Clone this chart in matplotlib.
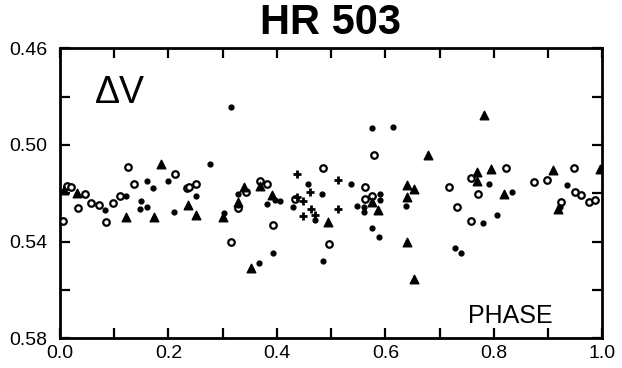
import numpy as np
import matplotlib
matplotlib.use("Agg")
import matplotlib.pyplot as plt

plt.rcParams['font.family'] = ['Liberation Sans', 'DejaVu Sans']

# open circles
circ_phase = [0.006, 0.012, 0.020, 0.033, 0.046, 0.058, 0.071, 0.085, 0.098, 0.111,
              0.125, 0.137, 0.212, 0.234, 0.238, 0.251, 0.315, 0.329, 0.342, 0.369,
              0.382, 0.393, 0.434, 0.485, 0.496, 0.563, 0.563, 0.576, 0.578, 0.718,
              0.731, 0.757, 0.758, 0.771, 0.822, 0.873, 0.897, 0.947, 0.950, 0.960,
              0.923, 0.975, 0.986]
circ_dv = [0.5315, 0.5169, 0.5173, 0.5262, 0.5203, 0.5240, 0.5250, 0.5319, 0.5242, 0.5211,
           0.5090, 0.5162, 0.5122, 0.5178, 0.5173, 0.5163, 0.5403, 0.5262, 0.5194, 0.5149,
           0.5163, 0.5331, 0.5225, 0.5094, 0.5411, 0.5173, 0.5225, 0.5213, 0.5042, 0.5173,
           0.5256, 0.5316, 0.5136, 0.5204, 0.5094, 0.5155, 0.5145, 0.5094, 0.5196, 0.5207,
           0.5235, 0.5235, 0.5228]

# filled dots
dot_phase = [0.083, 0.122, 0.149, 0.148, 0.161, 0.161, 0.172, 0.200, 0.211, 0.250,
             0.276, 0.303, 0.316, 0.328, 0.328, 0.381, 0.396, 0.405, 0.392, 0.367,
             0.429, 0.458, 0.483, 0.471, 0.484, 0.536, 0.547, 0.561, 0.561, 0.576,
             0.613, 0.590, 0.590, 0.575, 0.588, 0.638, 0.728, 0.740, 0.779, 0.791,
             0.806, 0.834, 0.935, 0.922]
dot_dv = [0.5269, 0.5210, 0.5232, 0.5266, 0.5149, 0.5258, 0.5177, 0.5149, 0.5279, 0.5211,
          0.5080, 0.5280, 0.4842, 0.5203, 0.5249, 0.5244, 0.5228, 0.5231, 0.5449, 0.5490,
          0.5258, 0.5162, 0.5202, 0.5311, 0.5482, 0.5162, 0.5251, 0.5257, 0.5276, 0.4928,
          0.4926, 0.5203, 0.5226, 0.5342, 0.5380, 0.5252, 0.5428, 0.5449, 0.5321, 0.5163,
          0.5290, 0.5196, 0.5167, 0.5256]

# crosses
plus_phase = [0.437, 0.461, 0.436, 0.448, 0.462, 0.448, 0.471, 0.512, 0.512]
plus_dv = [0.5122, 0.5193, 0.5214, 0.5231, 0.5265, 0.5292, 0.5290, 0.5145, 0.5263]

# filled triangles
tri_phase = [0.007, 0.032, 0.122, 0.173, 0.186, 0.236, 0.250, 0.301, 0.329, 0.339,
             0.368, 0.391, 0.353, 0.494, 0.576, 0.587, 0.639, 0.653, 0.639, 0.639,
             0.653, 0.679, 0.782, 0.768, 0.768, 0.794, 0.818, 0.909, 0.995, 0.919]
tri_dv = [0.5186, 0.5197, 0.5300, 0.5300, 0.5079, 0.5249, 0.5290, 0.5300, 0.5237, 0.5173,
          0.5169, 0.5207, 0.5509, 0.5319, 0.5237, 0.5269, 0.5164, 0.5184, 0.5215, 0.5402,
          0.5555, 0.5040, 0.4877, 0.5111, 0.5149, 0.5101, 0.5202, 0.5104, 0.5100, 0.5266]

fig = plt.figure(figsize=(6.22, 3.68), dpi=100)
ax = fig.add_axes([0.0965, 0.0807, 0.872, 0.788])

ax.scatter(circ_phase, circ_dv, s=22, facecolors='white', edgecolors='black', linewidths=1.6, zorder=3)
ax.scatter(dot_phase, dot_dv, s=12, color='black', zorder=3)
ax.scatter(plus_phase, plus_dv, s=28, marker='+', color='black', linewidths=2.0, zorder=3)
ax.scatter(tri_phase, tri_dv, s=38, marker='^', color='black', zorder=3)

ax.set_xlim(0, 1.0)
ax.set_ylim(0.58, 0.46)
ax.set_xticks(np.arange(0, 1.01, 0.2))
ax.set_xticks(np.arange(0, 1.01, 0.1), minor=True)
ax.set_yticks([0.46, 0.50, 0.54, 0.58])
ax.set_yticks(np.arange(0.46, 0.581, 0.02), minor=True)
ax.set_xticklabels(['0.0', '0.2', '0.4', '0.6', '0.8', '1.0'])
ax.set_yticklabels(['0.46', '0.50', '0.54', '0.58'])
ax.tick_params(which='both', direction='in', top=True, right=True, length=7, width=1.6,
               labelsize=14)
ax.tick_params(axis='x', pad=5)
ax.tick_params(axis='y', pad=9)
for sp in ax.spines.values():
    sp.set_linewidth(2.0)

ax.text(0.065, 0.4785, 'ΔV', fontsize=27, ha='left', va='center')
ax.text(0.831, 0.5708, 'PHASE', fontsize=18, ha='center', va='center')
fig.text(0.532, 0.938, 'HR 503', fontsize=30, fontweight='bold', ha='center', va='center')

fig.savefig('out.png', dpi=100)
